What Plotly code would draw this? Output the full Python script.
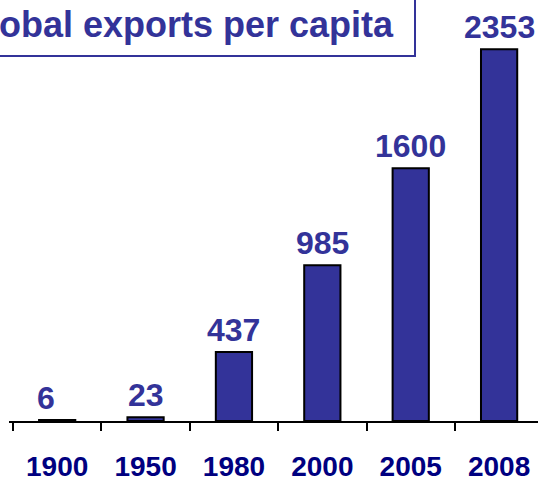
import plotly.graph_objects as go

years = ["1900", "1950", "1980", "2000", "2005", "2008"]
exports_per_capita = [6, 23, 437, 985, 1600, 2353]
label_text = ["6", "23", "437", "985", "1600", "2353"]
title_text = "Global exports per capita"

BAR = "#333399"
FONT = "Arial, Liberation Sans, sans-serif"

fig = go.Figure()
fig.add_trace(go.Bar(
    x=years, y=exports_per_capita, width=0.41,
    marker=dict(color=BAR, line=dict(color="black", width=2)),
    hoverinfo="skip",
))

for i, (v, t) in enumerate(zip(exports_per_capita, label_text)):
    fig.add_annotation(
        x=i, y=v, text=f"<b>{t}</b>", showarrow=False,
        xanchor="center", yanchor="bottom", yshift=2,
        xshift=-11 if i == 0 else 0,
        font=dict(family=FONT, size=32, color=BAR),
    )

# title box
fig.add_shape(type="rect", xref="paper", yref="paper",
              x0=-0.3, x1=0.7675, y0=0.867, y1=1.2,
              line=dict(color=BAR, width=2), fillcolor="white", layer="above")
fig.add_annotation(
    xref="paper", yref="paper", x=0.7316, y=0.888,
    xanchor="right", yanchor="bottom", showarrow=False,
    text=f"<b>{title_text}</b>",
    font=dict(family=FONT, size=36, color=BAR),
)

fig.update_layout(
    width=538, height=482,
    margin=dict(l=9, r=0, t=0, b=54),
    paper_bgcolor="white", plot_bgcolor="white",
    showlegend=False,
    xaxis=dict(
        type="category", range=[-0.545, 5.44],
        showline=True, linecolor="black", linewidth=1.5,
        ticks="outside", tickson="boundaries", ticklen=8, tickwidth=1.5,
        tickcolor="black", showgrid=False, zeroline=False,
        tickfont=dict(family=FONT, size=28, color="#000080"),
        ticklabelstandoff=20,
        tickprefix="<b>", ticksuffix="</b>",
        fixedrange=True,
    ),
    yaxis=dict(
        range=[0, 2664], visible=False, showgrid=False, zeroline=False,
        fixedrange=True,
    ),
)

fig.write_html(
    "out.html",
    config={"displayModeBar": False},
    post_script="document.body.style.margin='0';document.body.style.overflow='hidden';",
)
